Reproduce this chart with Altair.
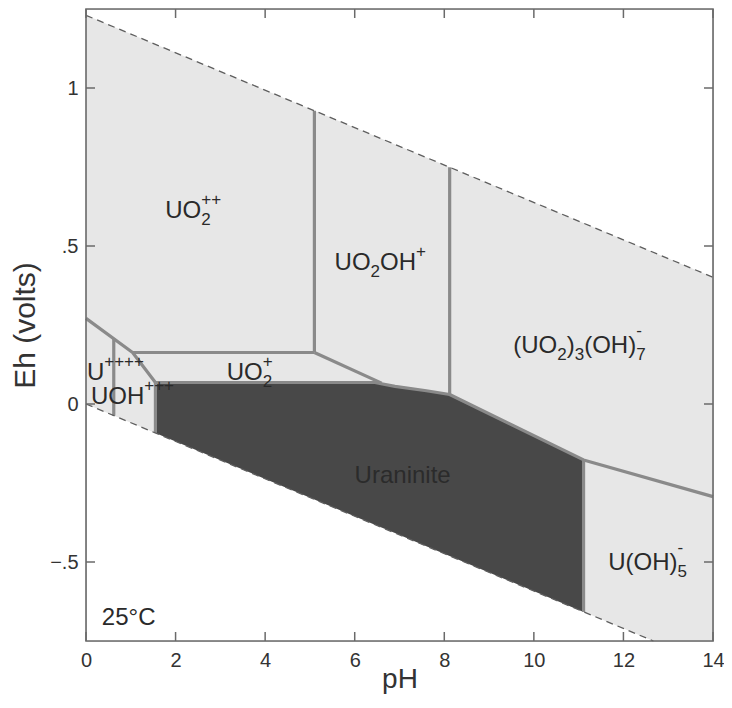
import altair as alt
import pandas as pd

# ---------------- data ----------------
ph_ticks = [0, 2, 4, 6, 8, 10, 12, 14]
eh_ticks = [-0.5, 0, 0.5, 1]

upper_water_ph = [0, 14]
upper_water_eh = [1.23, 0.401]
lower_water_ph = [0, 12.67]
lower_water_eh = [0.0, -0.75]

field_ph = [0, 12.67, 14]
field_top = [1.23, 0.480, 0.401]
field_bottom = [0.0, -0.75, -0.75]

uran_ph = [1.55, 6.45, 6.9, 7.6, 8.12, 11.11]
uran_top = [0.068, 0.068, 0.056, 0.042, 0.030, -0.177]
uran_bottom = [-0.092, -0.382, -0.408, -0.450, -0.481, -0.658]

boundaries = {
    "diag": ([0.0, 1.04, 1.55], [0.271, 0.163, 0.068]),
    "uo2_h": ([1.04, 5.10], [0.163, 0.163]),
    "v51": ([5.10, 5.10], [0.163, 0.928]),
    "uo2oh": ([5.10, 6.60], [0.163, 0.066]),
    "uran_top": ([1.55, 6.45, 6.9, 7.6, 8.12, 11.11, 14.0],
                 [0.068, 0.068, 0.056, 0.042, 0.030, -0.177, -0.293]),
    "v812": ([8.12, 8.12], [0.030, 0.749]),
    "v062": ([0.62, 0.62], [0.206, -0.037]),
    "v155": ([1.55, 1.55], [0.068, -0.092]),
    "v1111": ([11.11, 11.11], [-0.177, -0.658]),
}

species_labels = [
    ([("UO", "n"), ("2", "sub"), ("++", "sup")], 1.77, 0.590),
    ([("UO", "n"), ("2", "sub"), ("OH", "n"), ("+", "sup")], 5.55, 0.423),
    ([("UO", "n"), ("2", "sub"), ("+", "sup")], 3.14, 0.076),
    ([("U", "n"), ("++++", "sup")], 0.02, 0.076),
    ([("UOH", "n"), ("+++", "sup")], 0.11, 0.000),
    ([("(UO", "n"), ("2", "sub"), (")", "n"), ("3", "sub"), ("(OH)", "n"),
      ("7", "sub"), ("-", "supm")], 9.54, 0.161),
    ([("U(OH)", "n"), ("5", "sub"), ("-", "supm")], 11.66, -0.524),
    ([("25°C", "n")], 0.354, -0.698),
]
uraninite_label = ("Uraninite", 7.07, -0.249)

# ---------------- layout / style ----------------
W, H = 627, 632
px_ph = W / 14.0
px_eh = H / 2.0
FONT = "Liberation Sans"
MAIN, SMALL = 24, 17
LINE_C = "#8a8a8a"
TXT_C = "#2a2a2a"
AX_C = "#6a6a6a"

CW = {'U': .722, 'O': .778, 'H': .722, '(': .333, ')': .333, '2': .556, '3': .556,
      '5': .556, '7': .556, '+': .584, '-': .333, '°': .4, 'C': .722}


def tw(s, fs):
    return sum(CW.get(c, .556) for c in s) * fs


rows = []
for pieces, a_ph, a_eh in species_labels:
    x = 0.0
    prev_kind, prev_start = None, 0.0
    for text, kind in pieces:
        if kind == "n":
            dx, dy, fs = x, 0, MAIN
            x += tw(text, MAIN)
        elif kind == "sub":
            dx, dy, fs = x, 7, SMALL
            x += tw(text, SMALL)
        else:
            fs = SMALL
            dy = -13 if kind == "sup" else -17
            if prev_kind == "sub":
                dx = prev_start
                x = max(x, dx + tw(text, SMALL))
            else:
                dx = x
                x += tw(text, SMALL)
        prev_kind, prev_start = kind, dx
        rows.append({"pH": a_ph + dx / px_ph, "Eh": a_eh - dy / px_eh,
                     "text": text, "fs": fs})
text_df = pd.DataFrame(rows)

xs = alt.Scale(domain=[0, 14], nice=False, zero=False)
ys = alt.Scale(domain=[-0.75, 1.25], nice=False, zero=False)
xaxis = alt.Axis(values=ph_ticks, title="pH", ticks=False, domain=False, grid=False,
                 labelFontSize=20, labelPadding=9, labelFlush=False, labelOverlap=False,
                 titleFontSize=28, titleY=46, titleBaseline="alphabetic",
                 labelColor="#333333",
                 titleColor="#333333", labelFont=FONT, titleFont=FONT,
                 titleFontWeight="normal", format="d")
yaxis = alt.Axis(values=eh_ticks, title="Eh (volts)", ticks=False, domain=False,
                 grid=False, labelFontSize=20, labelPadding=8, labelOverlap=False,
                 titleFontSize=30, titlePadding=9, labelColor="#333333",
                 titleColor="#333333", labelFont=FONT, titleFont=FONT,
                 titleFontWeight="normal",
                 labelExpr="datum.value == -0.5 ? '\u2212.5' : (datum.value == 0.5 ? '.5' : (datum.value == 0 ? '0' : '1'))")
X = alt.X("pH:Q", scale=xs, axis=xaxis)
Y = alt.Y("Eh:Q", scale=ys, axis=yaxis)

field_df = pd.DataFrame({"pH": field_ph, "Eh": field_top, "Eh2": field_bottom})
field = alt.Chart(field_df).mark_area(color="#e7e7e7", opacity=1).encode(
    x=X, y=Y, y2=alt.Y2("Eh2:Q"))

uran_df = pd.DataFrame({"pH": uran_ph, "Eh": uran_top, "Eh2": uran_bottom})
uran = alt.Chart(uran_df).mark_area(color="#484848", opacity=1).encode(
    x=X, y=Y, y2=alt.Y2("Eh2:Q"))

brows = []
for name, (phs, ehs) in boundaries.items():
    for i, (p, e) in enumerate(zip(phs, ehs)):
        brows.append({"seg": name, "ord": i, "pH": p, "Eh": e})
bdf = pd.DataFrame(brows)
blines = alt.Chart(bdf).mark_line(color=LINE_C, strokeWidth=3.2,
                                  strokeJoin="round").encode(
    x=X, y=Y, detail="seg:N", order="ord:Q")

wrows = []
for name, phs, ehs in [("up", upper_water_ph, upper_water_eh),
                       ("lo", lower_water_ph, lower_water_eh)]:
    for i, (p, e) in enumerate(zip(phs, ehs)):
        wrows.append({"seg": name, "ord": i, "pH": p, "Eh": e})
wdf = pd.DataFrame(wrows)
water = alt.Chart(wdf).mark_line(color="#5e5e5e", strokeWidth=1.3,
                                 strokeDash=[7, 5]).encode(
    x=X, y=Y, detail="seg:N", order="ord:Q")

texts = alt.Chart(text_df).mark_text(align="left", baseline="alphabetic", font=FONT,
                                     color=TXT_C).encode(
    x=X, y=Y, text="text:N", size=alt.Size("fs:Q", scale=None))

urdf = pd.DataFrame({"pH": [uraninite_label[1]], "Eh": [uraninite_label[2]],
                     "text": [uraninite_label[0]]})
urtext = alt.Chart(urdf).mark_text(align="center", baseline="alphabetic", font=FONT,
                                   fontSize=24, color="#2b2b2b").encode(
    x=X, y=Y, text="text:N")

eh_df = pd.DataFrame({"Eh": eh_ticks})
ph_df = pd.DataFrame({"pH": ph_ticks})
TL = 9
tick_left = alt.Chart(eh_df).mark_rule(color=AX_C, strokeWidth=1.5).encode(
    y=Y, x=alt.value(0), x2=alt.value(TL))
tick_right = alt.Chart(eh_df).mark_rule(color=AX_C, strokeWidth=1.5).encode(
    y=Y, x=alt.value(W - TL), x2=alt.value(W))
tick_bottom = alt.Chart(ph_df).mark_rule(color=AX_C, strokeWidth=1.5).encode(
    x=X, y=alt.value(H - TL), y2=alt.value(H))
tick_top = alt.Chart(ph_df).mark_rule(color=AX_C, strokeWidth=1.5).encode(
    x=X, y=alt.value(0), y2=alt.value(TL))

frame = alt.Chart(pd.DataFrame({"k": [0]})).mark_rect(
    filled=False, stroke=AX_C, strokeWidth=1.6, fillOpacity=0).encode(
    x=alt.value(0), x2=alt.value(W), y=alt.value(0), y2=alt.value(H))

chart = alt.layer(
    field, uran, blines, water, texts, urtext,
    tick_left, tick_right, tick_bottom, tick_top, frame
).properties(
    width=W, height=H,
    autosize=alt.AutoSizeParams(type="none"),
    padding={"left": 78, "top": 1, "right": 11, "bottom": 53},
).configure_view(
    strokeWidth=0
).configure(background="white")

chart.save("out.html", embed_options={"renderer": "svg", "actions": False})
